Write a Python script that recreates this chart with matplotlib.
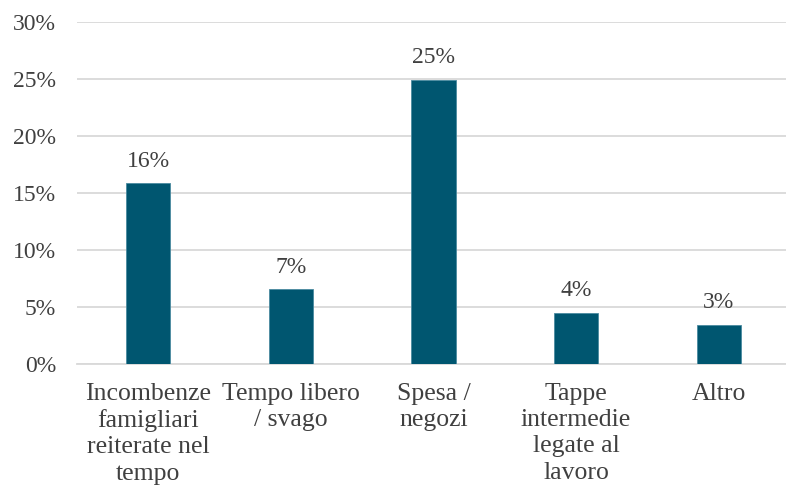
import numpy as np
import matplotlib.pyplot as plt

# ---------------------------------------------------------------
# Data
# ---------------------------------------------------------------
categories = ["Incombenze\nfamigliari\nreiterate nel\ntempo",
              "Tempo libero\n/ svago",
              "Spesa /\nnegozi",
              "Tappe\nintermedie\nlegate al\nlavoro",
              "Altro"]
values = [15.85, 6.55, 24.9, 4.45, 3.42]   # [%]
labels = ["16%", "7%", "25%", "4%", "3%"]
yticks = [0, 5, 10, 15, 20, 25, 30]

# ---------------------------------------------------------------
# Plot
# ---------------------------------------------------------------
plt.rcParams['font.family'] = ['Liberation Serif', 'DejaVu Serif']
txt = "#404040"

fig = plt.figure(figsize=(7.86, 4.90), dpi=100)
ax = fig.add_axes([77 / 786, 1 - 364 / 490, 713 / 786, 342 / 490])

x = np.arange(len(categories))
ax.bar(x, values, width=0.31, color="#005670", edgecolor="#4a8aa0", linewidth=0.6, zorder=3)

for xi, v, lab in zip(x, values, labels):
    ax.annotate(lab, (xi, v), xytext=(0, 8.5), textcoords="offset points",
                ha="center", va="bottom", fontsize=17, color=txt)

ax.set_xlim(-0.5, len(categories) - 0.5)
ax.set_ylim(0, 30)
ax.set_yticks(yticks)
ax.set_yticklabels([f"{t}%" for t in yticks], fontsize=17, color=txt)
ax.set_xticks(x)
ax.set_xticklabels(categories, fontsize=18.5, color=txt, linespacing=1.25)
ax.tick_params(axis="x", length=0, pad=13.5)
ax.tick_params(axis="y", length=0, pad=15)
ax.grid(axis="y", color="#d9d9d9", lw=1.3, zorder=0)
for s in ["top", "right", "left"]:
    ax.spines[s].set_visible(False)
ax.spines["bottom"].set_color("#d9d9d9")
ax.spines["bottom"].set_linewidth(1.3)

fig.savefig("out.png", dpi=100)
